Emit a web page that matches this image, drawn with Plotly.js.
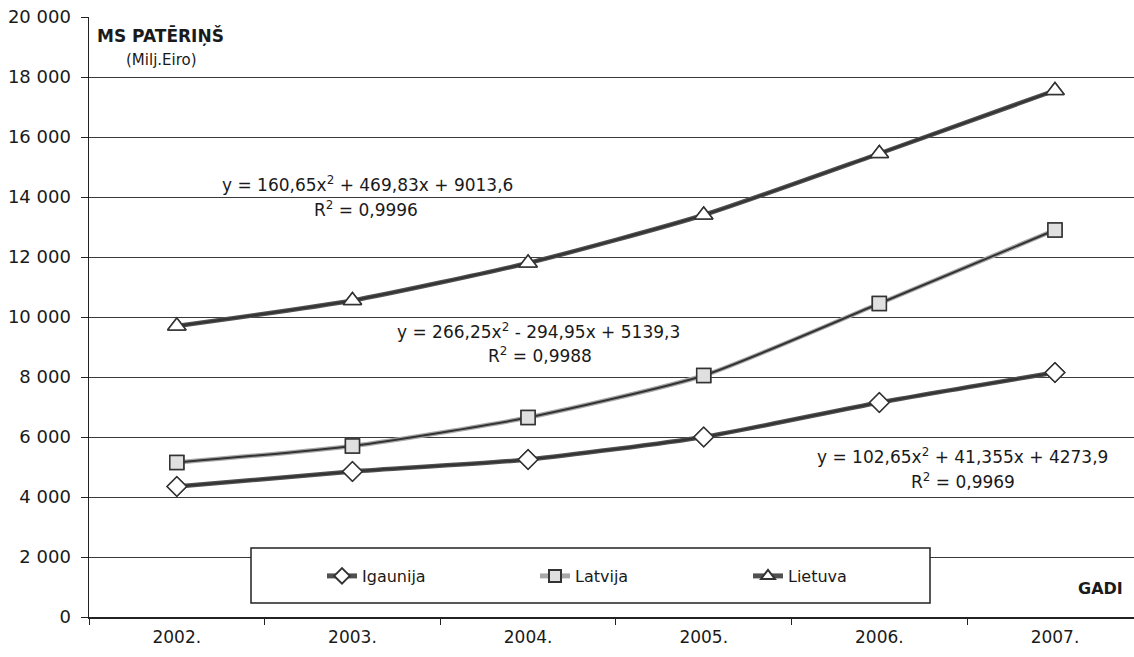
<!DOCTYPE html>
<html>
<head>
<meta charset="utf-8">
<script src="https://cdn.plot.ly/plotly-3.0.1.min.js"></script>
<style>html,body{margin:0;padding:0;background:#fff;}#chart{width:1134px;height:657px;}</style>
</head>
<body>
<div id="chart"></div>
<script>
const years = ["2002.", "2003.", "2004.", "2005.", "2006.", "2007."];
const igaunija = [4350, 4850, 5250, 6000, 7150, 8150];
const latvija = [5150, 5700, 6650, 8050, 10450, 12900];
const lietuva = [9700, 10550, 11800, 13400, 15450, 17550];
const yTicks = [0, 2000, 4000, 6000, 8000, 10000, 12000, 14000, 16000, 18000, 20000];

const W = 1134, H = 657, L = 89, R = 0, T = 17, B = 40;
const pw = W - L - R, ph = H - T - B;
const px = x => (x - L) / pw;
const py = y => (H - B - y) / ph;

const dark = '#333333';
function series(name, y, color, symbol, fill, size) {
  return [
    {x: years, y: y, name: name, type: 'scatter', mode: 'lines+markers',
     line: {color: color, width: 4.5, shape: 'spline', smoothing: 0.6},
     marker: {symbol: symbol, size: size, color: fill, line: {color: dark, width: 1.5}},
     showlegend: true},
    {x: years, y: y, type: 'scatter', mode: 'lines', hoverinfo: 'skip',
     line: {color: dark, width: 2, shape: 'spline', smoothing: 0.6}, showlegend: false},
    {x: years, y: y, type: 'scatter', mode: 'markers', hoverinfo: 'skip',
     marker: {symbol: symbol, size: size, color: fill, line: {color: dark, width: 1.5}}, showlegend: false}
  ];
}

const traces = [].concat(
  series('Igaunija', igaunija, '#505050', 'diamond', '#ffffff', 15),
  series('Latvija', latvija, '#a8a8a8', 'square', '#e0e0e0', 14),
  series('Lietuva', lietuva, '#505050', 'triangle-up', '#ffffff', 16)
);

const FAM = 'DejaVu Sans, Verdana, sans-serif';
const eqFont = {family: FAM, size: 17, color: '#1a1a1a'};
function ann(x, y, text, font, anchor) {
  return {xref: 'paper', yref: 'paper', x: px(x), y: py(y), text: text, showarrow: false,
          xanchor: anchor || 'center', yanchor: 'middle', font: font || eqFont};
}

const layout = {
  width: W, height: H,
  margin: {l: L, r: R, t: T, b: B},
  paper_bgcolor: '#ffffff', plot_bgcolor: '#ffffff',
  separators: ', ',
  font: {family: FAM, color: '#1a1a1a'},
  xaxis: {
    type: 'category', range: [-0.5, 5.45], showgrid: false, zeroline: false,
    showline: true, linecolor: '#222', linewidth: 1.5,
    ticks: 'outside', tickson: 'boundaries', ticklen: 6, tickcolor: '#222',
    ticklabelstandoff: 4,
    tickfont: {size: 17, color: '#1a1a1a'}
  },
  yaxis: {
    range: [0, 20000], tickvals: yTicks, tickformat: ',d',
    showgrid: true, gridcolor: '#3a3a3a', gridwidth: 1, zeroline: false,
    showline: true, linecolor: '#222', linewidth: 1.5,
    ticks: 'outside', ticklen: 7, tickcolor: '#222',
    ticklabelstandoff: 6,
    tickfont: {size: 18, color: '#1a1a1a'}
  },
  showlegend: true,
  legend: {
    orientation: 'h', x: px(322), y: py(576), xanchor: 'left', yanchor: 'middle',
    bgcolor: 'rgba(0,0,0,0)', borderwidth: 0, entrywidth: 168, entrywidthmode: 'pixels',
    itemsizing: 'constant',
    font: {size: 16, color: '#1a1a1a'}, traceorder: 'normal'
  },
  shapes: [
    {type: 'rect', xref: 'paper', yref: 'paper', x0: px(251), x1: px(930), y0: py(603), y1: py(548),
     fillcolor: '#ffffff', line: {color: '#222', width: 1.5}, layer: 'above'}
  ],
  annotations: [
    ann(95, 36, '<b>MS PATĒRIŅŠ</b>', {family: FAM, size: 17, color: '#1a1a1a'}, 'left'),
    ann(124, 60, '(Milj.Eiro)', {family: FAM, size: 15, color: '#1a1a1a'}, 'left'),
    ann(1125, 588, '<b>GADI</b>', {family: FAM, size: 16, color: '#1a1a1a'}, 'right'),
    ann(367, 184, 'y = 160,65x<sup>2</sup> + 469,83x + 9013,6'),
    ann(366, 209, 'R<sup>2</sup> = 0,9996'),
    ann(538, 331, 'y = 266,25x<sup>2</sup> - 294,95x + 5139,3'),
    ann(540, 355, 'R<sup>2</sup> = 0,9988'),
    ann(963, 456, 'y = 102,65x<sup>2</sup> + 41,355x + 4273,9'),
    ann(963, 481, 'R<sup>2</sup> = 0,9969')
  ]
};

Plotly.newPlot('chart', traces, layout, {displayModeBar: false, staticPlot: true});
</script>
</body>
</html>
